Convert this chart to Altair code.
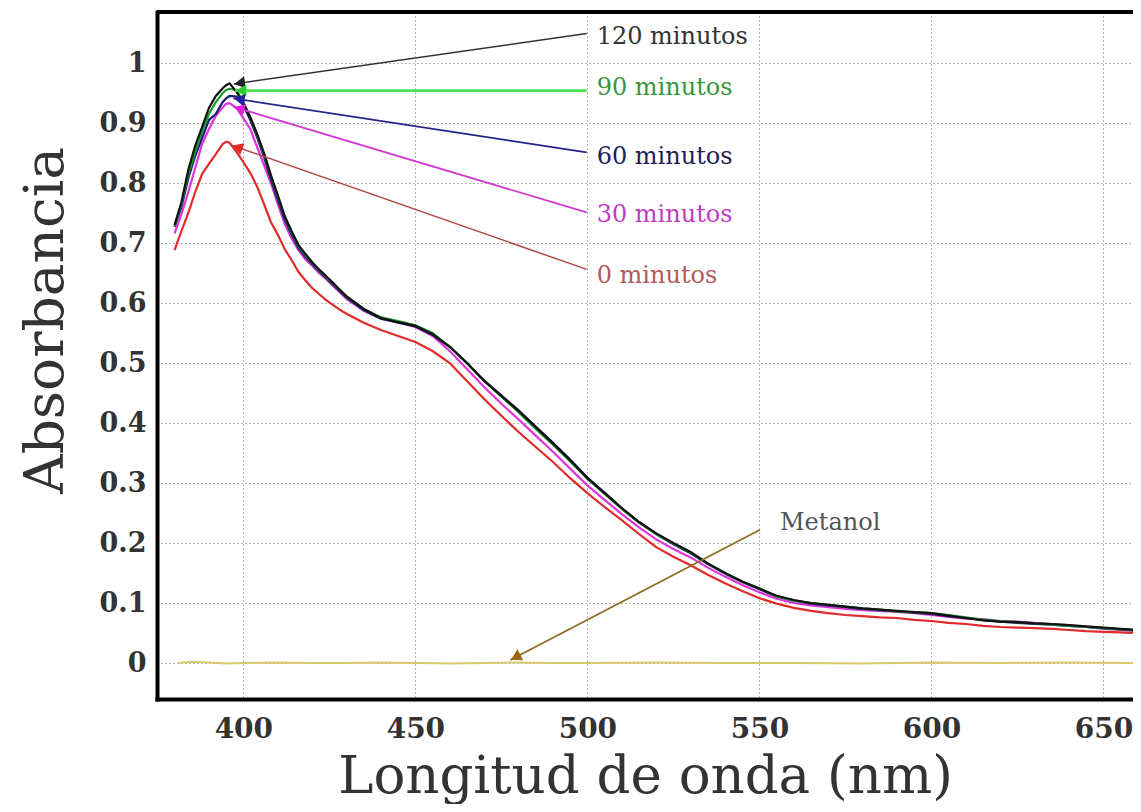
import math
import pandas as pd
import altair as alt

# ---------------- data ----------------
wl = [380, 382, 384, 386, 388, 390, 392, 394, 395, 396, 398, 400, 402, 404, 406, 408,
      410, 412, 414, 416, 418, 420, 422, 424, 426, 428, 430, 435, 440, 445, 450, 455,
      460, 465, 470, 475, 480, 485, 490, 495, 500, 505, 510, 515, 520, 525, 530, 535,
      540, 545, 550, 555, 560, 565, 570, 575, 580, 585, 590, 595, 600, 605, 610, 615,
      620, 625, 630, 635, 640, 645, 650, 655, 660]

abs_0 = [0.688, 0.72, 0.75, 0.785, 0.815, 0.832, 0.848, 0.865, 0.869, 0.867, 0.852, 0.835,
         0.817, 0.794, 0.765, 0.735, 0.714, 0.69, 0.672, 0.652, 0.638, 0.625, 0.615, 0.605,
         0.597, 0.589, 0.582, 0.567, 0.555, 0.545, 0.535, 0.52, 0.5, 0.47, 0.44, 0.412,
         0.385, 0.36, 0.335, 0.308, 0.283, 0.26, 0.238, 0.215, 0.193, 0.177, 0.163, 0.147,
         0.133, 0.12, 0.108, 0.099, 0.092, 0.087, 0.083, 0.08, 0.078, 0.076, 0.075, 0.072,
         0.07, 0.067, 0.065, 0.062, 0.06, 0.059, 0.058, 0.057, 0.055, 0.053, 0.052, 0.051, 0.05]

abs_30 = [0.716, 0.748, 0.785, 0.825, 0.865, 0.89, 0.912, 0.926, 0.932, 0.933, 0.925, 0.908,
          0.89, 0.86, 0.83, 0.8, 0.765, 0.732, 0.708, 0.688, 0.673, 0.662, 0.65, 0.64,
          0.629, 0.618, 0.607, 0.587, 0.574, 0.568, 0.56, 0.545, 0.52, 0.49, 0.46, 0.432,
          0.406, 0.379, 0.352, 0.324, 0.296, 0.272, 0.248, 0.226, 0.206, 0.19, 0.176, 0.159,
          0.144, 0.13, 0.118, 0.107, 0.1, 0.096, 0.093, 0.09, 0.088, 0.087, 0.085, 0.083,
          0.08, 0.077, 0.074, 0.073, 0.07, 0.069, 0.067, 0.065, 0.063, 0.06, 0.057, 0.055, 0.053]

abs_60 = [0.727, 0.76, 0.808, 0.845, 0.875, 0.905, 0.915, 0.935, 0.941, 0.945, 0.944, 0.93,
          0.905, 0.876, 0.843, 0.806, 0.772, 0.74, 0.714, 0.692, 0.677, 0.665, 0.653, 0.642,
          0.631, 0.62, 0.609, 0.588, 0.574, 0.567, 0.561, 0.547, 0.527, 0.5, 0.471, 0.446,
          0.421, 0.394, 0.367, 0.339, 0.309, 0.284, 0.258, 0.235, 0.215, 0.198, 0.183, 0.165,
          0.149, 0.135, 0.123, 0.111, 0.104, 0.099, 0.096, 0.093, 0.09, 0.088, 0.086, 0.084,
          0.082, 0.078, 0.075, 0.072, 0.069, 0.067, 0.065, 0.064, 0.062, 0.06, 0.058, 0.056, 0.054]

abs_90 = [0.728, 0.765, 0.815, 0.852, 0.885, 0.915, 0.935, 0.95, 0.955, 0.957, 0.955, 0.935,
          0.91, 0.88, 0.848, 0.812, 0.778, 0.745, 0.718, 0.695, 0.68, 0.667, 0.655, 0.644,
          0.633, 0.622, 0.611, 0.59, 0.576, 0.57, 0.563, 0.55, 0.527, 0.5, 0.47, 0.444,
          0.418, 0.39, 0.364, 0.336, 0.307, 0.282, 0.257, 0.234, 0.215, 0.199, 0.184, 0.166,
          0.15, 0.136, 0.124, 0.111, 0.104, 0.1, 0.097, 0.094, 0.091, 0.089, 0.086, 0.085,
          0.083, 0.08, 0.076, 0.072, 0.07, 0.068, 0.066, 0.064, 0.062, 0.06, 0.058, 0.056, 0.054]

abs_120 = [0.73, 0.768, 0.822, 0.862, 0.893, 0.925, 0.945, 0.958, 0.963, 0.966, 0.952, 0.932,
           0.91, 0.882, 0.85, 0.813, 0.78, 0.745, 0.72, 0.697, 0.682, 0.668, 0.656, 0.645,
           0.634, 0.622, 0.611, 0.59, 0.575, 0.568, 0.562, 0.548, 0.527, 0.5, 0.47, 0.445,
           0.42, 0.393, 0.366, 0.338, 0.308, 0.283, 0.258, 0.235, 0.216, 0.2, 0.185, 0.166,
           0.15, 0.136, 0.124, 0.112, 0.105, 0.1, 0.097, 0.094, 0.091, 0.089, 0.087, 0.085,
           0.083, 0.079, 0.075, 0.071, 0.069, 0.068, 0.066, 0.065, 0.063, 0.061, 0.059, 0.057, 0.055]

wl_met = [381, 385, 390, 395, 400, 410, 420, 430, 440, 450, 460, 470, 480, 490, 500,
          520, 540, 560, 580, 600, 620, 640, 660]
abs_met = [0.0, 0.002, 0.001, -0.001, 0.0, 0.001, 0.0, 0.0, 0.001, 0.0, -0.001, 0.0,
           0.001, 0.0, 0.0, 0.001, 0.0, 0.0, -0.001, 0.001, 0.0, 0.001, 0.0]

series_names = ["0 minutos", "30 minutos", "60 minutos", "90 minutos", "120 minutos"]
series_vals = [abs_0, abs_30, abs_60, abs_90, abs_120]
series_colors = ["#e12a2a", "#e033e0", "#1b1e78", "#1f9a2c", "#111111"]

# annotations
ann_labels = ["120 minutos", "90 minutos", "60 minutos", "30 minutos", "0 minutos", "Metanol"]
ann_text_x = [502.7, 502.7, 502.7, 502.7, 502.7, 556.0]
ann_text_y = [1.044, 0.958, 0.844, 0.747, 0.645, 0.233]
arrow_x1 = [499.8, 499.8, 499.8, 499.8, 499.8, 550.2]
arrow_y1 = [1.049, 0.954, 0.851, 0.751, 0.656, 0.222]
arrow_x2 = [397.2, 397.6, 397.1, 397.1, 396.6, 477.6]
arrow_y2 = [0.965, 0.954, 0.941, 0.927, 0.863, 0.005]
text_colors = ["#333333", "#3a963a", "#1e1e55", "#c23cc2", "#b05a5a", "#555555"]
line_colors = ["#333333", "#4ee04e", "#24248a", "#d03cd0", "#b04848", "#8b6a1e"]
head_colors = ["#222222", "#2ecc2e", "#2020a0", "#e020e0", "#e02828", "#9a6410"]
line_widths = [1.5, 2.6, 1.8, 1.8, 1.5, 1.6]

# ---------------- layout ----------------
XMIN, XMAX = 374.9, 658.6
YMIN, YMAX = -0.06, 1.085
W, H = 976, 687
XPX = W / (XMAX - XMIN)
YPX = H / (YMAX - YMIN)

FONT = "DejaVu Serif"

xaxis = alt.Axis(values=[400, 450, 500, 550, 600, 650], title="Longitud de onda (nm)",
                 labelFont=FONT, labelFontWeight="bold", labelFontSize=28, labelColor="#333333",
                 labelPadding=16, ticks=False, domainColor="black", domainWidth=4,
                 domainCap="square", grid=True, gridColor="#666666", gridDash=[1, 3],
                 gridWidth=1, titleFont=FONT, titleFontSize=53, titleFontWeight="normal",
                 titleColor="#333333", titleY=93, titleBaseline="alphabetic")
yaxis = alt.Axis(values=[0, 0.1, 0.2, 0.3, 0.4, 0.5, 0.6, 0.7, 0.8, 0.9, 1.0], format="~g",
                 title="Absorbancia", labelFont=FONT, labelFontWeight="bold", labelFontSize=27,
                 labelColor="#333333", labelPadding=11, ticks=False, domainColor="black",
                 domainWidth=4, domainCap="square", grid=True, gridColor="#666666",
                 gridDash=[1, 3], gridWidth=1, titleFont=FONT, titleFontSize=55,
                 titleFontWeight="normal", titleColor="#333333", titleX=-95, titleY=308,
                 titleAngle=270, titleAlign="center", titleBaseline="alphabetic")

xs = alt.Scale(domain=[XMIN, XMAX], nice=False, zero=False)
ys = alt.Scale(domain=[YMIN, YMAX], nice=False, zero=False)


def X(field):
    return alt.X(field, type="quantitative", scale=xs, axis=xaxis)


def Y(field):
    return alt.Y(field, type="quantitative", scale=ys, axis=yaxis)


layers = []

# methanol baseline
met_df = pd.DataFrame({"wl": wl_met, "a": abs_met})
layers.append(alt.Chart(met_df).mark_line(color="#d9c96a", strokeWidth=2, clip=True)
              .encode(x=X("wl"), y=Y("a")))

# spectra
for name, vals, col in zip(series_names, series_vals, series_colors):
    df = pd.DataFrame({"wl": wl, "a": vals, "serie": name})
    layers.append(alt.Chart(df).mark_line(color=col, strokeWidth=2.2, clip=True)
                  .encode(x=X("wl"), y=Y("a")))

# arrows
ar = pd.DataFrame({"x1": arrow_x1, "y1": arrow_y1, "x2": arrow_x2, "y2": arrow_y2,
                   "lc": line_colors, "lw": line_widths, "hc": head_colors,
                   "tx": ann_text_x, "ty": ann_text_y, "tc": text_colors, "label": ann_labels})

angs, hx, hy = [], [], []
for x1, y1, x2, y2 in zip(arrow_x1, arrow_y1, arrow_x2, arrow_y2):
    dx = (x2 - x1) * XPX
    dy = -(y2 - y1) * YPX
    L = math.hypot(dx, dy)
    angs.append(math.degrees(math.atan2(dx, -dy)) % 360)
    back = 6.0
    hx.append(x2 - back * dx / L / XPX)
    hy.append(y2 + back * dy / L / YPX)
ar["ang"] = angs
ar["hx"] = hx
ar["hy"] = hy

layers.append(alt.Chart(ar).mark_rule().encode(
    x=X("x1"), y=Y("y1"), x2="x2", y2="y2",
    color=alt.Color("lc:N", scale=None), strokeWidth=alt.StrokeWidth("lw:Q", scale=None)))

layers.append(alt.Chart(ar).mark_point(shape="triangle-up", filled=True, opacity=1, size=150)
              .encode(x=X("hx"), y=Y("hy"), color=alt.Color("hc:N", scale=None),
                      angle=alt.Angle("ang:Q", scale=None)))

layers.append(alt.Chart(ar).mark_text(align="left", baseline="middle", font=FONT, fontSize=24)
              .encode(x=X("tx"), y=Y("ty"), text="label:N", color=alt.Color("tc:N", scale=None)))

# top frame line
layers.append(alt.Chart(pd.DataFrame({"k": [0]})).mark_rule(color="black", strokeWidth=4)
              .encode(x=alt.value(0), x2=alt.value(W), y=alt.value(0)))

chart = alt.layer(*layers).properties(
    width=W, height=H,
    autosize=alt.AutoSizeParams(type="none"),
    padding={"left": 149, "top": 4, "right": 0, "bottom": 105},
    background="white",
).configure_view(stroke=None)

chart.save("out.html", embed_options={"renderer": "svg", "actions": False})
